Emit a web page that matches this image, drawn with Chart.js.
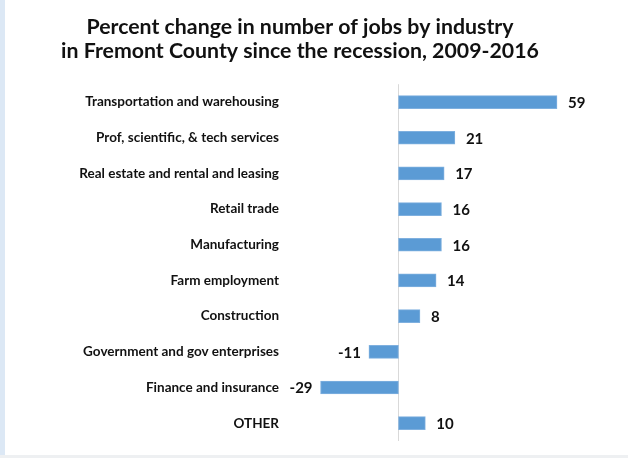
<!DOCTYPE html>
<html>
<head>
<meta charset="utf-8">
<script src="https://cdn.jsdelivr.net/npm/chart.js@4"></script>
<style>
  html, body { margin: 0; padding: 0; background: #fff; }
  body { width: 628px; height: 458px; position: relative; overflow: hidden; }
  #stripe { position: absolute; left: 0; top: 0; width: 5px; height: 458px; background: #dce8f5; }
  #base { position: absolute; left: 0; top: 455px; width: 628px; height: 3px; background: #eef0f2; }
  #jobsChart { position: absolute; left: 0; top: 0; }
</style>
</head>
<body>
<div id="stripe"></div>
<div id="base"></div>
<canvas id="jobsChart" width="628" height="455"></canvas>
<script>

const industries = [
    "Transportation and warehousing",
    "Prof, scientific, & tech services",
    "Real estate and rental and leasing",
    "Retail trade",
    "Manufacturing",
    "Farm employment",
    "Construction",
    "Government and gov enterprises",
    "Finance and insurance",
    "OTHER"
];
const pctChange = [59, 21, 17, 16, 16, 14, 8, -11, -29, 10];

const titleLines = [
    "Percent change in number of jobs by industry",
    "in Fremont County since the recession, 2009-2016"
];


// =================== zero line + value labels ===================

const zeroLine = {

    id: "zeroLine",

    beforeDatasetsDraw(chart) {

        const { ctx, chartArea, scales } = chart;
        const x0 = Math.round(scales.x.getPixelForValue(0)) + 0.5;

        ctx.save();
        ctx.strokeStyle = "#d9d9d9";
        ctx.lineWidth = 1;
        ctx.beginPath();
        ctx.moveTo(x0, chartArea.top);
        ctx.lineTo(x0, chartArea.bottom);
        ctx.stroke();
        ctx.restore();
    }
};

const valueLabels = {

    id: "valueLabels",

    afterDatasetsDraw(chart) {

        const { ctx } = chart;
        const meta = chart.getDatasetMeta(0);

        ctx.save();
        ctx.font = "bold 15px Lato";
        ctx.fillStyle = "#111";
        ctx.textBaseline = "middle";

        meta.data.forEach((bar, i) => {
            const v = pctChange[i];
            if (v >= 0) {
                ctx.textAlign = "left";
                ctx.fillText(String(v), bar.x + 11, bar.y + 1);
            } else {
                ctx.textAlign = "right";
                ctx.fillText(String(v), bar.x - 8, bar.y + 1);
            }
        });

        ctx.restore();
    }
};


const ctx = document.getElementById("jobsChart").getContext("2d");

new Chart(ctx, {

    type: "bar",

    data: {
        labels: industries,
        datasets: [{
            data: pctChange,
            backgroundColor: "#5b9bd5",
            borderColor: "#7fb0df",
            borderWidth: 1,
            borderSkipped: false,
            barThickness: 13
        }]
    },

    options: {
        indexAxis: "y",
        responsive: false,
        animation: false,
        layout: { padding: { top: 0, bottom: 14, left: 0, right: 28 } },
        plugins: {
            legend: { display: false },
            tooltip: { enabled: false },
            title: {
                display: true,
                text: titleLines,
                color: "#111",
                font: { family: "Lato", size: 21.3, weight: "bold", lineHeight: 1.12 },
                padding: { top: 15.5, bottom: 21 }
            }
        },
        scales: {
            x: {
                display: false,
                min: -40,
                max: 75
            },
            y: {
                afterFit: s => { s.width = 291; s.paddingTop = 0; s.paddingBottom = 0; },
                border: { display: false },
                grid: { display: false, drawTicks: false },
                ticks: {
                    color: "#111",
                    padding: 12,
                    font: { family: "Lato", size: 13.5, weight: "bold" }
                }
            }
        }
    },

    plugins: [zeroLine, valueLabels]
});

</script>
</body>
</html>
